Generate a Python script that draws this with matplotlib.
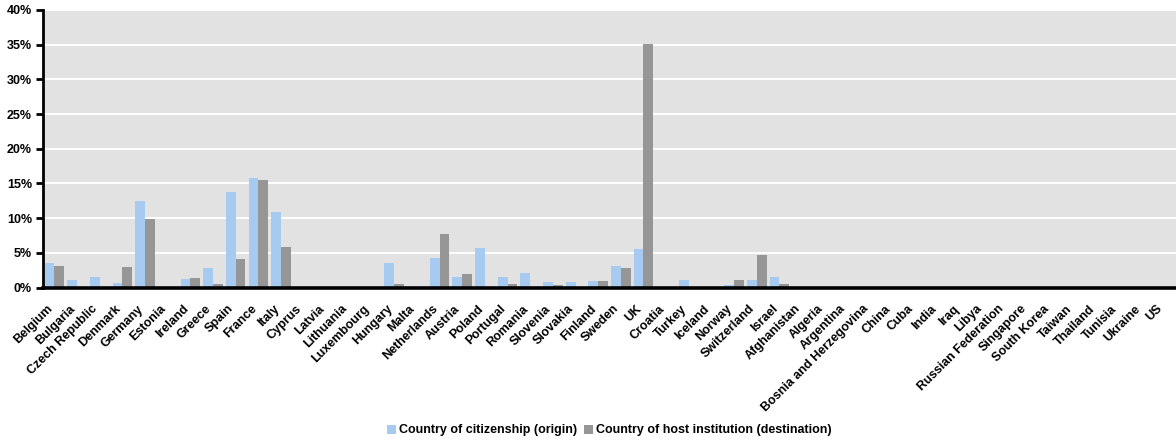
import numpy as np
import matplotlib
matplotlib.use("Agg")
import matplotlib.pyplot as plt
import matplotlib.transforms as mtransforms
from matplotlib.patches import Patch
from matplotlib.ticker import FuncFormatter, MultipleLocator

countries = [
    "Belgium", "Bulgaria", "Czech Republic", "Denmark", "Germany", "Estonia",
    "Ireland", "Greece", "Spain", "France", "Italy", "Cyprus", "Latvia",
    "Lithuania", "Luxembourg", "Hungary", "Malta", "Netherlands", "Austria",
    "Poland", "Portugal", "Romania", "Slovenia", "Slovakia", "Finland",
    "Sweden", "UK", "Croatia", "Turkey", "Iceland", "Norway", "Switzerland",
    "Israel", "Afghanistan", "Algeria", "Argentina", "Bosnia and Herzegovina",
    "China", "Cuba", "India", "Iraq", "Libya", "Russian Federation",
    "Singapore", "South Korea", "Taiwan", "Thailand", "Tunisia", "Ukraine", "US",
]

# Share of researchers (%) by country of citizenship
origin = [
    3.5, 1.06, 1.5, 0.6, 12.45, 0.1,
    1.2, 2.8, 13.75, 15.77, 10.87, 0.0, 0.0,
    0.0, 0.0, 3.5, 0.0, 4.23, 1.5,
    5.67, 1.5, 2.07, 0.77, 0.77, 0.91,
    3.08, 5.53, 0.1, 1.06, 0.0, 0.34, 1.06,
    1.5, 0.0, 0.0, 0.0, 0.0,
    0.0, 0.0, 0.1, 0.0, 0.0, 0.0,
    0.0, 0.0, 0.0, 0.0, 0.0, 0.0, 0.0,
]

# Share of researchers (%) by country of host institution
destination = [
    3.08, 0.0, 0.1, 2.9, 9.86, 0.0,
    1.35, 0.48, 4.1, 15.48, 5.82, 0.0, 0.0,
    0.0, 0.0, 0.48, 0.0, 7.7, 1.92,
    0.05, 0.48, 0.0, 0.34, 0.0, 0.91,
    2.79, 35.1, 0.0, 0.0, 0.0, 1.06, 4.66,
    0.48, 0.0, 0.0, 0.0, 0.0,
    0.0, 0.0, 0.0, 0.0, 0.0, 0.0,
    0.0, 0.0, 0.0, 0.0, 0.0, 0.0, 0.0,
]

series_labels = ["Country of citizenship (origin)",
                 "Country of host institution (destination)"]

BLUE = "#a6caf0"
GREY = "#969696"
BG = "#e2e2e2"

plt.rcParams["font.family"] = ["Liberation Sans", "DejaVu Sans"]
plt.rcParams["font.weight"] = "bold"

W, H = 1176, 441
fig = plt.figure(figsize=(W / 100, H / 100), dpi=100)
ax = fig.add_axes([43 / W, (H - 287.5) / H, (W - 43) / W, (287.5 - 10) / H])
ax.set_facecolor(BG)

x = np.arange(len(countries))
bw = 0.43
ax.bar(x - bw / 2, origin, width=bw, color=BLUE, zorder=3, linewidth=0)
ax.bar(x + bw / 2, destination, width=bw, color=GREY, zorder=3, linewidth=0)

ax.set_xlim(-0.5, len(countries) - 0.5)
ax.set_ylim(0, 40)
ax.yaxis.set_major_locator(MultipleLocator(5))
ax.yaxis.set_major_formatter(FuncFormatter(lambda v, _: f"{v:.0f}%"))
ax.yaxis.grid(True, color="white", linewidth=1.4, zorder=1)
ax.set_axisbelow(True)

for side in ("top", "right"):
    ax.spines[side].set_visible(False)
ax.spines["left"].set_linewidth(2.0)
ax.spines["bottom"].set_linewidth(2.6)
ax.spines["left"].set_zorder(4)
ax.spines["bottom"].set_zorder(4)

ax.tick_params(axis="y", length=5, width=2, pad=3, labelsize=9)
ax.tick_params(axis="x", length=0, pad=11, labelsize=9)

ax.set_xticks(x)
ax.set_xticklabels(countries, rotation=45, ha="right", va="top",
                   rotation_mode="anchor")
shift = mtransforms.ScaledTranslation(-8 / 100, 0, fig.dpi_scale_trans)
for lbl in ax.get_xticklabels():
    lbl.set_transform(lbl.get_transform() + shift)
for lbl in ax.get_yticklabels() + ax.get_xticklabels():
    lbl.set_fontweight("bold")

handles = [Patch(facecolor=BLUE, edgecolor="none"),
           Patch(facecolor=GREY, edgecolor="none")]
fig.legend(handles, series_labels, loc="center", ncol=2, frameon=False,
           bbox_to_anchor=(609.5 / W, 1 - 430.5 / H),
           prop={"size": 9, "weight": "bold"},
           handlelength=0.75, handleheight=0.75, handletextpad=0.25,
           columnspacing=0.5, borderpad=0)

fig.savefig("out.png", dpi=100)
